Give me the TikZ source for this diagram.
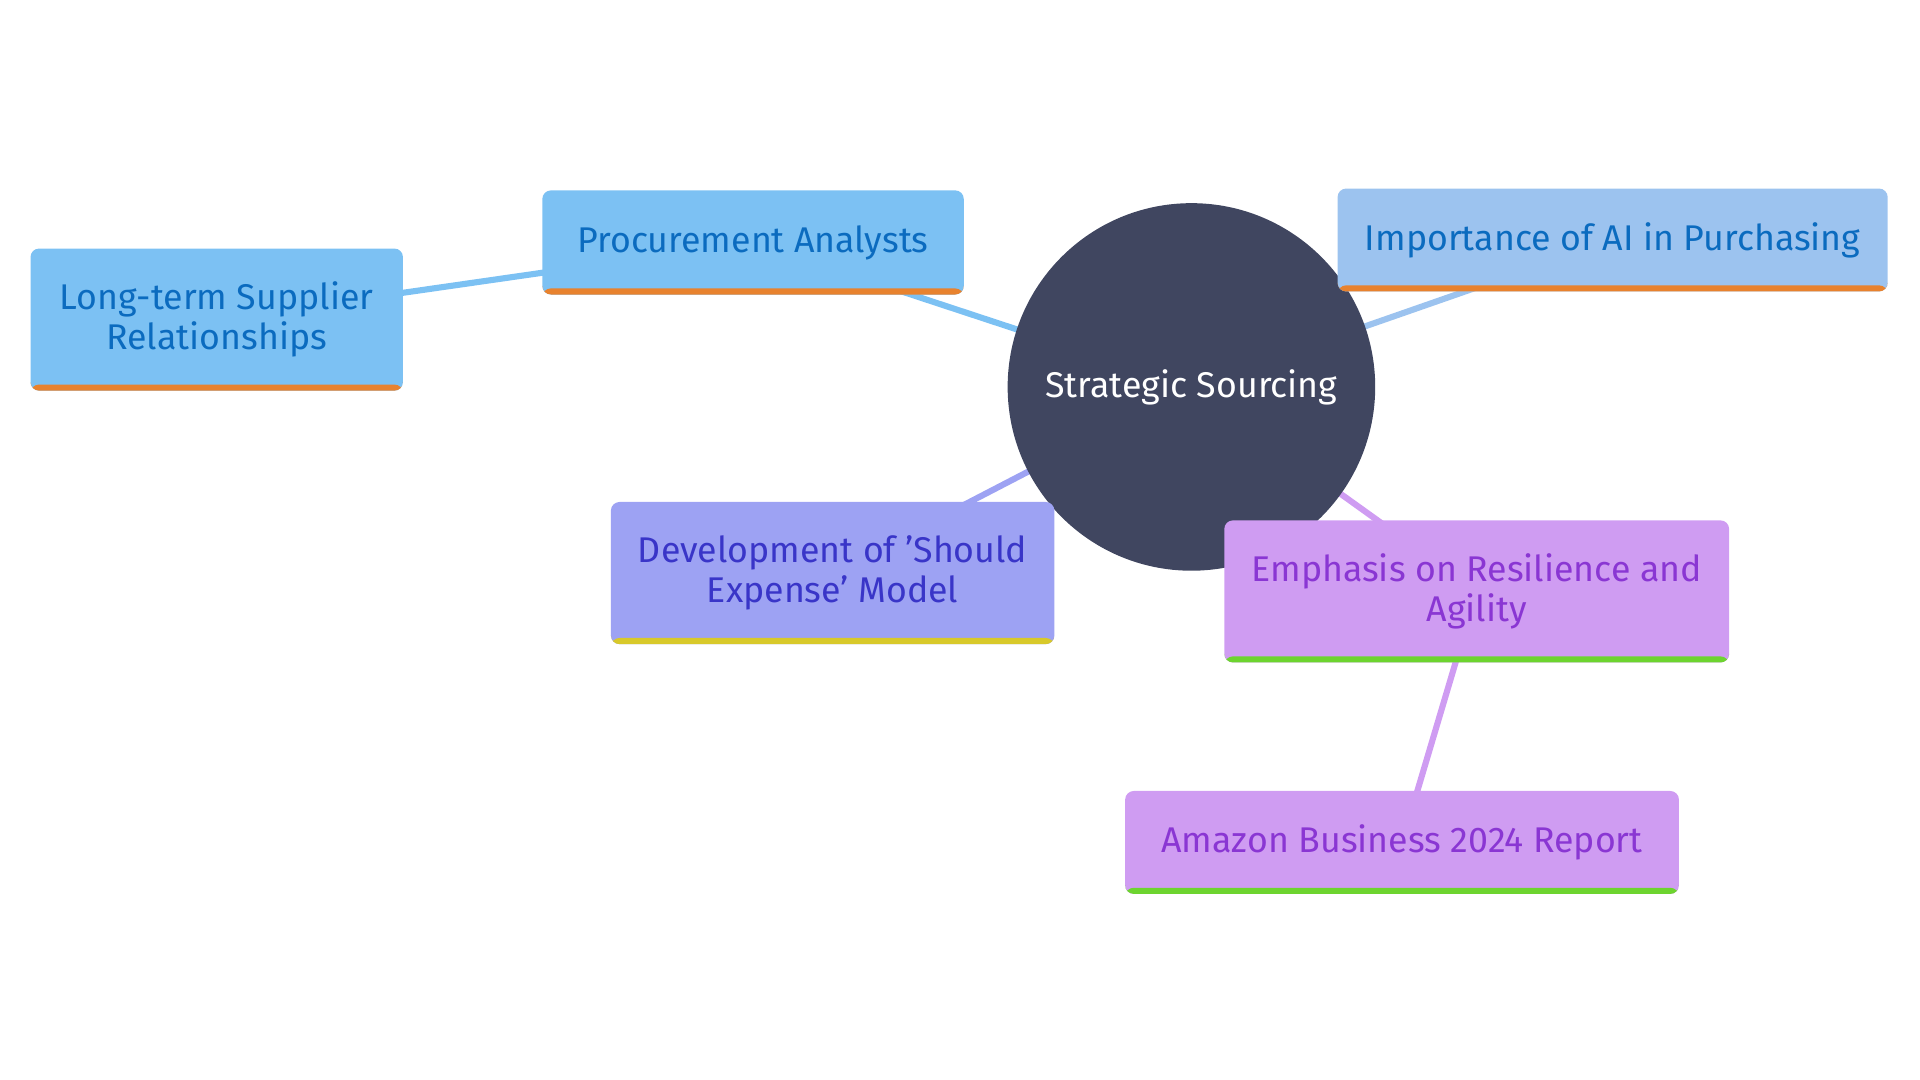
\documentclass[tikz,border=0pt]{standalone}
\usepackage{fontspec}
\setmainfont{Fira Sans}
\usepackage{tikz}
\usetikzlibrary{positioning, backgrounds}
\definecolor{hub}{HTML}{404660}
\definecolor{blueA}{HTML}{7CC1F3}
\definecolor{blueB}{HTML}{9CC3EF}
\definecolor{blueT}{HTML}{0B6BBF}
\definecolor{violA}{HTML}{9DA2F3}
\definecolor{violT}{HTML}{3935C8}
\definecolor{purpA}{HTML}{CF9CF2}
\definecolor{purpT}{HTML}{8A36D3}
\definecolor{barO}{HTML}{E8822E}
\definecolor{barY}{HTML}{D8C92A}
\definecolor{barG}{HTML}{6DD42F}

\begin{document}
\begin{tikzpicture}[x=0.01cm,y=-0.01cm,
        every node/.style={font=\fontsize{8.3pt}{9.2pt}\selectfont, align=center},
        box/.style={rectangle, rounded corners=2pt, inner sep=2pt},
        bar/.style={path picture={\fill[#1] (path picture bounding box.south west) rectangle ([yshift=0.05cm]path picture bounding box.south east);}},
        link/.style={line width=0.05cm}]
    \useasboundingbox (0,0) rectangle (1568,882);

    \node[circle, fill=hub, text=white, minimum size=3cm] (hub) at (973,316) {Strategic Sourcing};
    \node[box, fill=blueA, text=blueT, bar=barO, minimum width=3.44cm, minimum height=0.85cm] (proc) at (615,198) {Procurement Analysts};
    \node[box, fill=blueA, text=blueT, bar=barO, minimum width=3.04cm, minimum height=1.16cm] (supp) at (177,261) {Long-term Supplier\\Relationships};
    \node[box, fill=blueB, text=blueT, bar=barO, minimum width=4.49cm, minimum height=0.84cm] (ai) at (1317,196) {Importance of AI in Purchasing};
    \node[box, fill=violA, text=violT, bar=barY, minimum width=3.62cm, minimum height=1.16cm] (model) at (680,468) {Development of 'Should\\Expense' Model};
    \node[box, fill=purpA, text=purpT, bar=barG, minimum width=4.12cm, minimum height=1.16cm] (resil) at (1206,483) {Emphasis on Resilience and\\Agility};
    \node[box, fill=purpA, text=purpT, bar=barG, minimum width=4.52cm, minimum height=0.84cm] (amzn) at (1145,688) {Amazon Business 2024 Report};

    \begin{scope}[on background layer]
      \draw[link, blueA] (hub.center) -- (proc.center);
      \draw[link, blueA] (proc.center) -- (supp.center);
      \draw[link, blueB] (hub.center) -- (ai.center);
      \draw[link, violA] (hub.center) -- (model.center);
      \draw[link, purpA] (hub.center) -- (resil.center);
      \draw[link, purpA] (resil.center) -- (amzn.center);
    \end{scope}
\end{tikzpicture}
\end{document}
